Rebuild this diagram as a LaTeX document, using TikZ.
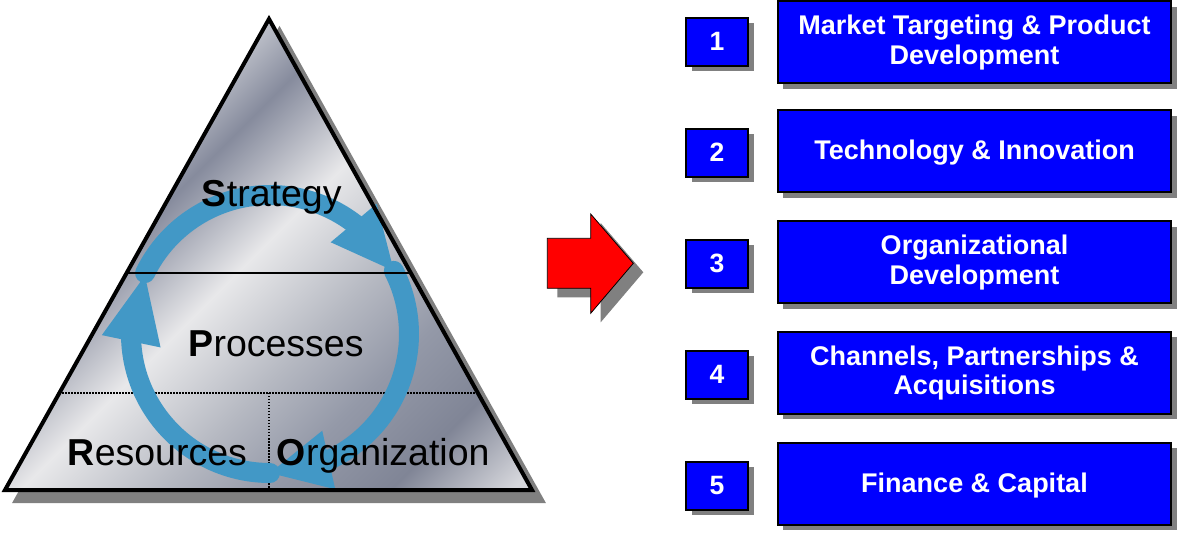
\documentclass[tikz,border=0pt]{standalone}
\usepackage{fontspec}
\setmainfont{Liberation Sans}
\usetikzlibrary{calc,shadows}
\definecolor{m0}{RGB}{190,193,202}
\definecolor{m1}{RGB}{134,139,157}
\definecolor{m2}{RGB}{232,232,234}
\definecolor{m3}{RGB}{182,185,194}
\definecolor{m4}{RGB}{148,153,168}
\definecolor{m5}{RGB}{128,133,150}
\definecolor{m6}{RGB}{214,215,220}
\definecolor{m7}{RGB}{200,201,206}
\definecolor{ringblue}{RGB}{66,152,198}
\definecolor{shadowgray}{RGB}{128,128,128}
\definecolor{boxblue}{RGB}{0,0,255}
\definecolor{arrowred}{RGB}{255,0,0}
\pgfdeclarehorizontalshading{metal}{700bp}{color(0bp)=(m0); color(35bp)=(m0); color(92bp)=(m1); color(191bp)=(m2); color(290bp)=(m3); color(367bp)=(m4); color(452bp)=(m5); color(537bp)=(m6); color(600bp)=(m7)}
\tikzset{
  ring/.style={draw=ringblue, line width=20pt, line cap=round},
  headfill/.style={fill=ringblue},
  dotline/.style={line width=2pt, dash pattern=on 1.5pt off 1.5pt},
  bigtext/.style={anchor=base west, inner sep=0pt, font=\fontsize{37.5}{45}\selectfont},
  boxshadow/.style={drop shadow={shadow xshift=5.5pt, shadow yshift=-5.5pt, opacity=1, fill=shadowgray}},
  numbox/.style={draw=black, line width=2pt, fill=boxblue, minimum width=62pt, minimum height=48pt, inner sep=0pt, boxshadow},
  bigbox/.style={draw=black, line width=2pt, fill=boxblue, minimum width=393.6pt, minimum height=82pt, inner sep=0pt, boxshadow},
  btext/.style={anchor=base, inner sep=0pt, text=white, font=\fontsize{27}{30}\selectfont\bfseries},
  ntext/.style={anchor=base, inner sep=0pt, text=white, font=\fontsize{26.5}{30}\selectfont\bfseries}
}
\begin{document}
\begin{tikzpicture}[x=1pt,y=-1pt]
\fill[white] (0,0) rectangle (1179,537);
\useasboundingbox (0,0) rectangle (1179,537);

% triangle shadow
\fill[shadowgray, draw=shadowgray, line width=4pt, line join=miter] (279.5,30) -- (15.5,501) -- (542.5,501) -- cycle;
% metallic fill
\begin{scope}
  \clip (269,19) -- (5,490) -- (532,490) -- cycle;
  \node[inner sep=0pt, outer sep=0pt, rotate=-45] (shade) at (273.7,391) {\pgfuseshading{metal}};
\end{scope}
% dotted dividers
\draw[dotline] (59.4,393) -- (477.6,393);
\draw[dotline] (269,393) -- (269,490);

% cycle arrows
\coordinate (C) at (270,334);
% top arrow
\draw[ring] ($(C)+(-154:139)$) arc[start angle=-154, end angle=-50, radius=139];
\coordinate (tb) at ($(C)+(-53:139)$);
\coordinate (tt) at ($(C)+(-27:139)$);
\fill[headfill] (tt) -- ($(tb)!30pt!90:(tt)$) -- ($(tb)!30pt!-90:(tt)$) -- cycle;
% right arrow
\draw[ring] ($(C)+(-27:139)$) arc[start angle=-27, end angle=68, radius=139];
\coordinate (rb) at ($(C)+(65:139)$);
\coordinate (rt) at ($(C)+(90:139)$);
\fill[headfill] (rt) -- ($(rb)!30pt!90:(rt)$) -- ($(rb)!30pt!-90:(rt)$) -- cycle;
% left arrow
\draw[ring] ($(C)+(90:139)$) arc[start angle=90, end angle=180, radius=139];
\coordinate (lb) at ($(C)+(177:139)$);
\coordinate (lt) at ($(C)+(205:138)$);
\fill[headfill] (lt) -- ($(lb)!30pt!90:(lt)$) -- ($(lb)!30pt!-90:(lt)$) -- cycle;

% solid divider and outline
\draw[line width=1.5pt] (126.6,273) -- (410.4,273);
\draw[line width=4pt, line join=miter] (269,19) -- (5,490) -- (532,490) -- cycle;

% labels
\node[bigtext] (strat) at (201.7,207) {\textbf{S}trategy};
\node[bigtext] (proc) at (188.3,356.7) {\textbf{P}rocesses};
\node[bigtext] (res) at (67.5,465) {\textbf{R}esources};
\node[bigtext] (org) at (276.7,465) {\textbf{O}rganization};

% red arrow
\fill[shadowgray] (557.3,247.3) -- (600.7,247.3) -- (600.7,223) -- (643.3,272.3) -- (600.7,322.3) -- (600.7,297.3) -- (557.3,297.3) -- cycle;
\draw[fill=arrowred, line width=0.8pt] (547.3,238.3) -- (590.7,238.3) -- (590.7,214) -- (633.3,263.3) -- (590.7,313.3) -- (590.7,288.3) -- (547.3,288.3) -- cycle;

% boxes
\node[bigbox] (b1) at (974.5,42.5) {};
\node[bigbox] (b2) at (974.5,151.3) {};
\node[bigbox] (b3) at (974.5,262.5) {};
\node[bigbox] (b4) at (974.5,372.9) {};
\node[bigbox] (b5) at (974.5,483.9) {};
\node[numbox] (n1) at (717,41.7) {};
\node[numbox] (n2) at (717,152.7) {};
\node[numbox] (n3) at (717,264) {};
\node[numbox] (n4) at (717,374.9) {};
\node[numbox] (n5) at (717,485.9) {};

\node[ntext] (n1t) at ($(n1.center)+(0,9)$) {1};
\node[ntext] (n2t) at ($(n2.center)+(0,9)$) {2};
\node[ntext] (n3t) at ($(n3.center)+(0,9)$) {3};
\node[ntext] (n4t) at ($(n4.center)+(0,9)$) {4};
\node[ntext] (n5t) at ($(n5.center)+(0,9)$) {5};

\node[btext] (b1a) at ($(b1.center)+(0,-7.5)$) {Market Targeting \& Product};
\node[btext] (b1b) at ($(b1.center)+(0,21.8)$) {Development};
\node[btext] (b2a) at ($(b2.center)+(0,8.7)$) {Technology \& Innovation};
\node[btext] (b3a) at ($(b3.center)+(0,-7.5)$) {Organizational};
\node[btext] (b3b) at ($(b3.center)+(0,21.8)$) {Development};
\node[btext] (b4a) at ($(b4.center)+(0,-7.5)$) {Channels, Partnerships \&};
\node[btext] (b4b) at ($(b4.center)+(0,21.8)$) {Acquisitions};
\node[btext] (b5a) at ($(b5.center)+(0,8.2)$) {Finance \& Capital};
\end{tikzpicture}
\end{document}
